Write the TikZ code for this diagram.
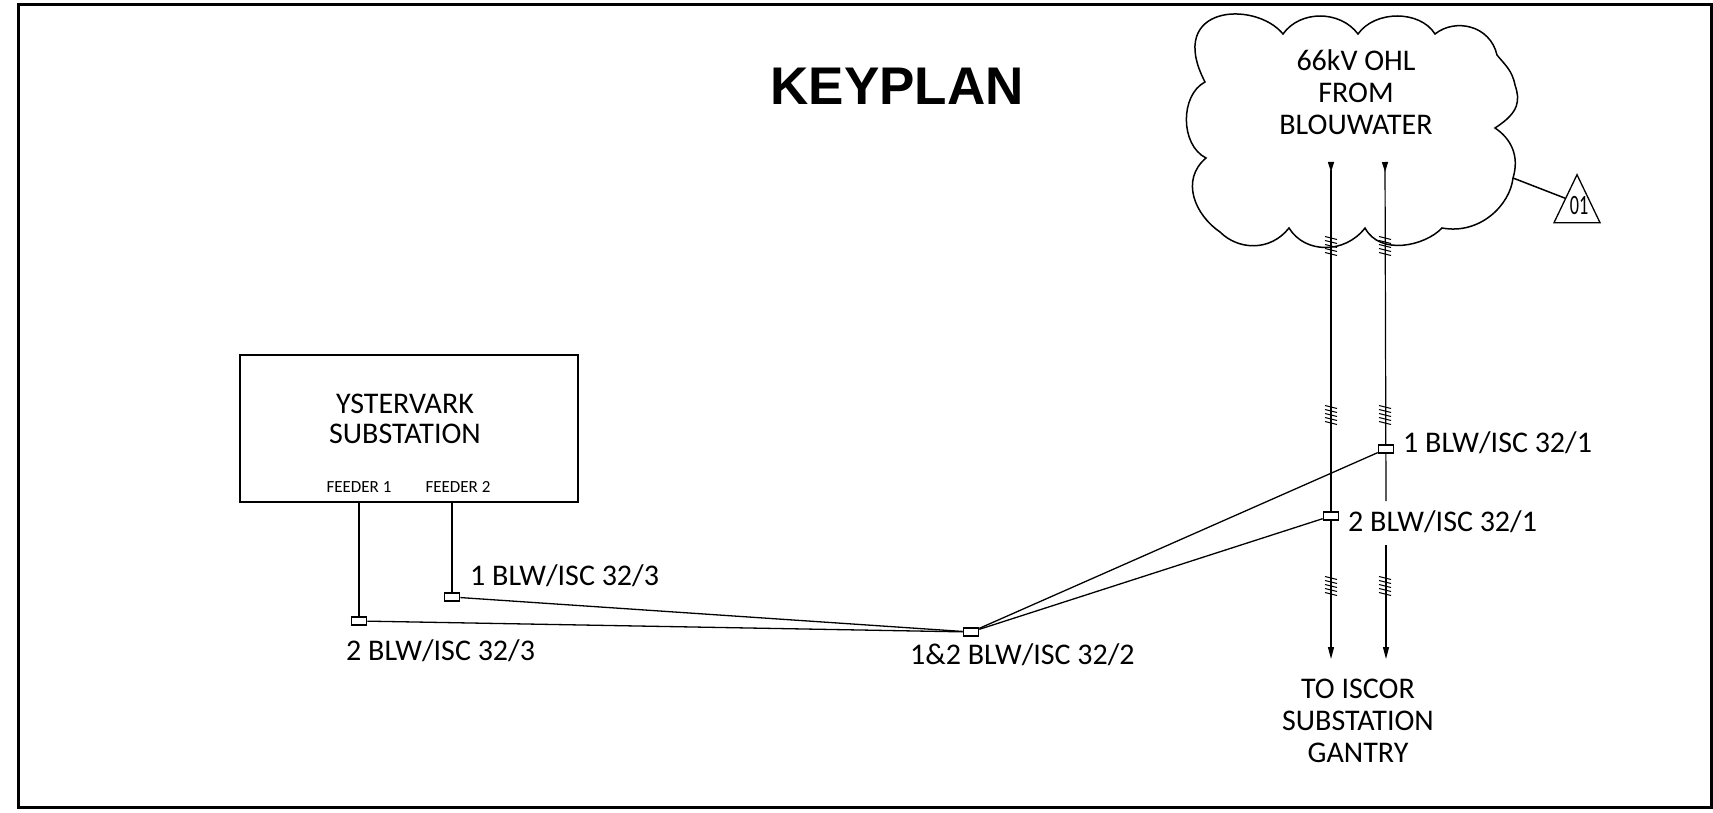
\documentclass[tikz,border=0pt]{standalone}
\usepackage{fontspec}
\setmainfont{Carlito}
\newfontfamily\titlefont{Liberation Sans}
\usepackage{tikz}
\usetikzlibrary{positioning, arrows.meta, calc, shapes.geometric}
\tikzset{
  frame line/.style={draw=black, line width=3pt},
  cable/.style={draw=black, line width=1.3pt},
  ohl/.style={draw=black, line width=1.2pt},
  label/.style={font=\fontsize{30pt}{32pt}\selectfont, align=center, inner sep=0pt},
  feeder/.style={font=\fontsize{17pt}{20pt}\selectfont, inner sep=0pt},
  joint/.style={draw=black, line width=1.6pt, fill=white, minimum width=15pt, minimum height=8pt, inner sep=0pt},
  station/.style={draw=black, line width=2pt, minimum width=338pt, minimum height=147pt, inner sep=0pt},
  rev tri/.style={draw=black, line width=1.3pt, isosceles triangle, shape border rotate=90, isosceles triangle stretches=true, minimum height=48pt, minimum width=46pt, inner sep=0pt},
  spring/.style={draw=black, line width=1pt}
}
\newcommand{\springmark}[1]{%
  \foreach \yo in {-8,-4,0,4,8}
    \draw[spring] ($(#1)+(-6pt,\yo pt+1.5pt)$) -- ($(#1)+(6pt,\yo pt-1.5pt)$);
}
\begin{document}
\begin{tikzpicture}[x=1pt,y=-1pt]
  \useasboundingbox (0,0) rectangle (1713,813);
  \draw[frame line] (18,5) rectangle (1711,807);

  \node[font=\fontsize{53pt}{60pt}\selectfont\titlefont\bfseries, inner sep=0pt] (title) at (897,86) {KEYPLAN};

  % cloud
  \draw[line width=1.5pt] (1283,34)
    .. controls (1255,0) and (1165,5) .. (1205,82)
    .. controls (1180,95) and (1180,145) .. (1206,158)
    .. controls (1180,180) and (1195,215) .. (1220,232)
    .. controls (1238,250) and (1270,252) .. (1289,228)
    .. controls (1305,254) and (1345,254) .. (1365,228)
    .. controls (1380,256) and (1425,246) .. (1442,228)
    .. controls (1480,235) and (1510,205) .. (1513,178)
    .. controls (1520,155) and (1510,138) .. (1495,128)
    .. controls (1520,112) and (1520,100) .. (1515,85)
    .. controls (1512,70) and (1505,65) .. (1497,55)
    .. controls (1490,25) and (1455,18) .. (1435,34)
    .. controls (1420,10) and (1375,10) .. (1358,34)
    .. controls (1340,10) and (1300,10) .. (1283,34) -- cycle;
  \node[label] (source) at (1356,92) {66kV OHL\\FROM\\BLOUWATER};

  % revision mark
  \coordinate (cloudedge) at (1513,178);
  \node[rev tri, anchor=apex] (rev) at (1577,173) {};
  \node[font=\fontsize{28pt}{30pt}\selectfont, inner sep=0pt] (revno) at (1579,206) {\scalebox{.65}[1]{01}};
  \draw[line width=1.5pt] (cloudedge) -- (rev.left side);

  % substation
  \node[station] (yst) at (409,428) {};
  \node[label, font=\fontsize{30pt}{30pt}\selectfont] (ystname) at (405,419) {YSTERVARK\\SUBSTATION};
  \node[feeder] (fd1) at (359,487) {FEEDER 1};
  \node[feeder] (fd2) at (458,487) {FEEDER 2};

  % joints
  \coordinate (s1) at (359,502);
  \coordinate (s2) at (452,502);
  \node[joint] (j1) at (359,621) {};
  \node[joint] (j2) at (452,597) {};
  \node[joint] (j3) at (971,632) {};
  \node[joint] (j4) at (1331,516) {};
  \node[joint] (j5) at (1386,449) {};

  \draw[cable] (s1) -- (j1);
  \draw[cable] (s2) -- (j2);
  \draw[cable] (j1) -- (j3);
  \draw[cable] (j2) -- (j3);
  \draw[cable] (j3) -- (j4);
  \draw[cable] (j3) -- (j5);

  % overhead lines
  \coordinate (a1) at (1331,162);
  \coordinate (a2) at (1331,659);
  \coordinate (b1) at (1385,162);
  \coordinate (b2) at (1386,501);
  \coordinate (b3) at (1386,545);
  \coordinate (b4) at (1386,659);
  \draw[ohl, {Triangle[reversed,length=10pt,width=6pt]}-{Triangle[length=12pt,width=6pt]}] (a1) -- (a2);
  \draw[ohl, {Triangle[reversed,length=10pt,width=6pt]}-] (b1) -- (b2);
  \draw[ohl, -{Triangle[length=12pt,width=6pt]}] (b3) -- (b4);

  \foreach \yy in {246,415,586} {
    \coordinate (ma) at (1331,\yy);
    \coordinate (mb) at (1385,\yy);
    \springmark{ma}
    \springmark{mb}
  }
  \node[joint] at (j4) {};
  \node[joint] at (j5) {};

  \node[label, anchor=west] (t1) at (1403,443) {1 BLW/ISC 32/1};
  \node[label, anchor=west] (t2) at (1348,522) {2 BLW/ISC 32/1};
  \node[label, anchor=west] (t3) at (470,576) {1 BLW/ISC 32/3};
  \node[label, anchor=west] (t4) at (346,651) {2 BLW/ISC 32/3};
  \node[label, anchor=west] (t5) at (910,655) {1\&2 BLW/ISC 32/2};
  \node[label] (dest) at (1358,721) {TO ISCOR\\SUBSTATION\\GANTRY};
\end{tikzpicture}
\end{document}
